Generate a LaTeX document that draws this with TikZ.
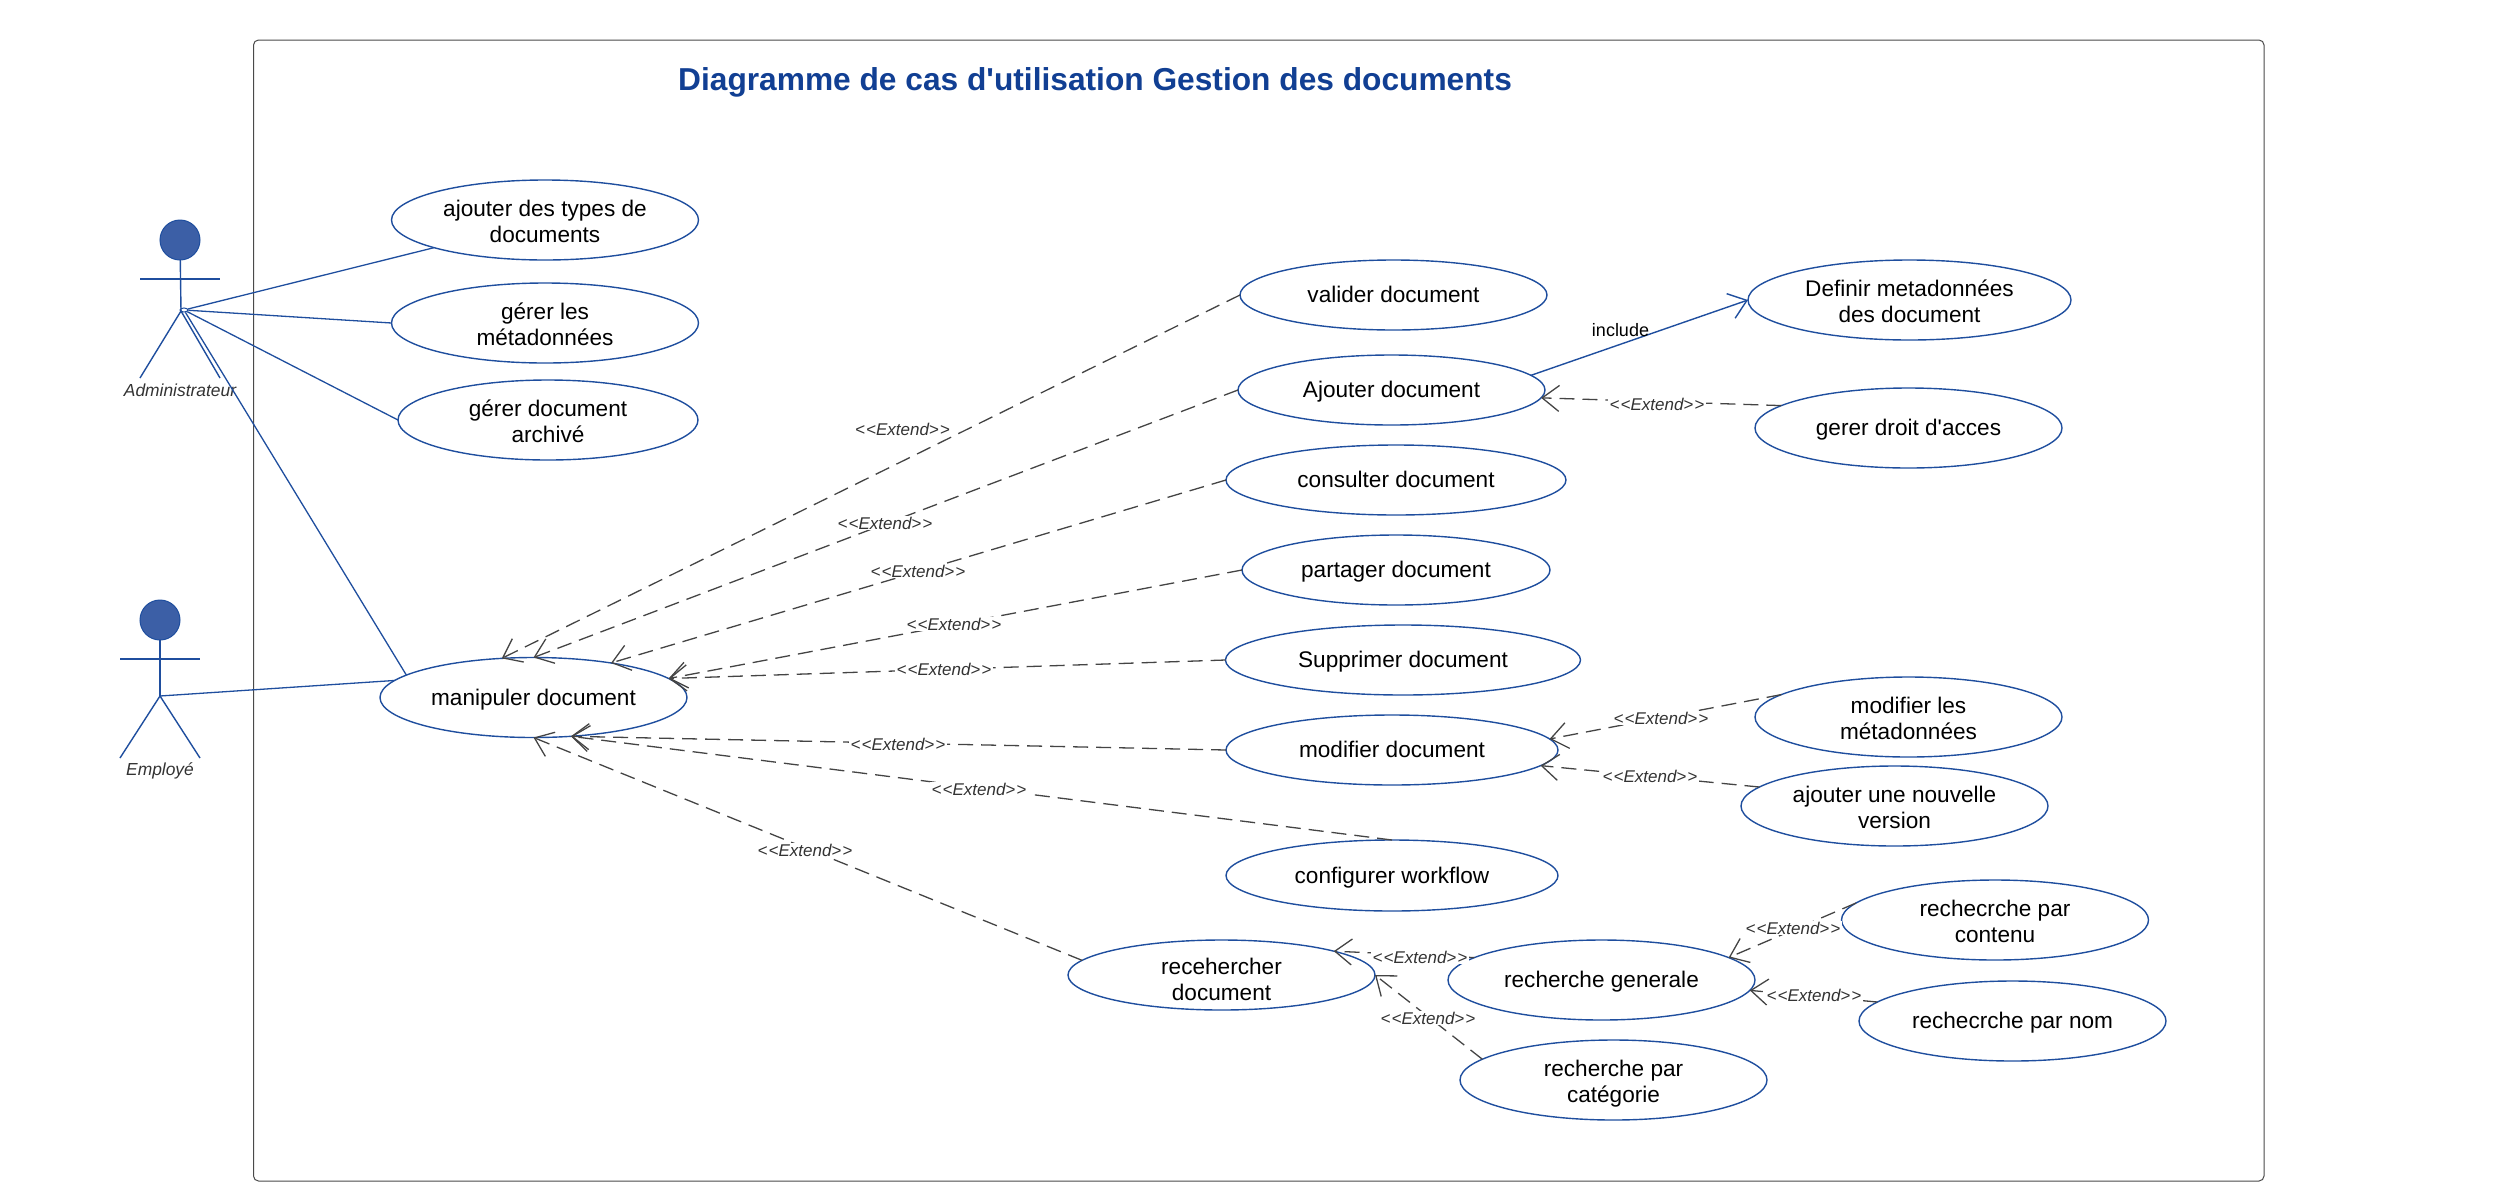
\documentclass[tikz,border=0pt]{standalone}
\usepackage{fontspec}
\setmainfont{Liberation Sans}
\newfontfamily\bodyf{Liberation Sans}
\AtBeginDocument{\bodyf}
\usetikzlibrary{shapes.geometric,arrows.meta}
\definecolor{ucblue}{HTML}{1F4E9E}
\definecolor{headfill}{HTML}{3C5FA6}
\definecolor{titleblue}{HTML}{113F93}
\definecolor{dashgrey}{HTML}{444444}
\definecolor{framegrey}{HTML}{4A4A4A}
\newcommand{\extext}{{<}\kern1pt{<}Extend{>}\kern1pt{>}}
\newcommand{\twol}[3][14.9pt]{\smash{\lower#1\hbox{\begin{tabular}[b]{@{}c@{}}#2\\#3\end{tabular}}}}
\tikzset{
  x=1pt,y=-1pt,
  uc/.style={ellipse,draw=ucblue,line width=1.4pt,inner sep=0pt,outer sep=0pt,minimum width=307pt,minimum height=80pt,align=center,
    font=\bodyf\fontsize{22.6}{26}\selectfont,text=black,execute at begin node={\rule[-5pt]{0pt}{25pt}}},
  ucs/.style={uc,minimum height=70pt},
  head/.style={circle,draw=ucblue,fill=headfill,line width=1pt,minimum size=40pt,inner sep=0pt,outer sep=0pt},
  limb/.style={draw=ucblue,line width=1.4pt},
  assoc/.style={draw=ucblue,line width=1.3pt},
  ext/.style={draw=dashgrey,line width=1.3pt,dash pattern=on 15pt off 8pt,-{Straight Barb[length=17pt,width=26pt,line width=1.3pt,color=dashgrey]}},
  inc/.style={draw=ucblue,line width=1.4pt,-{Straight Barb[length=17pt,width=26pt,line width=1.4pt,color=ucblue]}},
  extlabel/.style={fill=white,inner xsep=2pt,inner ysep=1pt,text=black!80,font=\bodyf\fontsize{17}{18}\selectfont\itshape},
  actorlabel/.style={inner sep=0pt,text=black!80,font=\bodyf\fontsize{17.4}{20}\selectfont\itshape},
  inclabel/.style={inner sep=0pt,text=black,font=\bodyf\fontsize{18}{20}\selectfont},
  titlelabel/.style={inner sep=0pt,text=titleblue,font=\bodyf\fontsize{31.7}{40}\selectfont\bfseries}
}
\begin{document}
\begin{tikzpicture}
\useasboundingbox (0,0) rectangle (2509,1203);
\draw[framegrey,line width=1pt,rounded corners=5pt] (253.5,40) rectangle (2264,1181);
\node[titlelabel,anchor=west] (title) at (678,82) {Diagramme de cas d'utilisation Gestion des documents};

\node[uc] (types) at (545,220) {\twol{ajouter des types de}{documents}};
\node[uc] (meta) at (545,323) {\twol{gérer les}{métadonnées}};
\node[uc,minimum width=300pt] (arch) at (548,420) {\twol{gérer document}{archivé}};
\node[uc] (manip) at (533.5,697.5) {manipuler document};
\node[ucs] (valider) at (1393.5,295) {valider document};
\node[ucs] (ajout) at (1391.5,390) {Ajouter document};
\node[uc,minimum width=323pt] (defin) at (1909.5,300) {\twol{Definir metadonnées}{des document}};
\node[uc] (droit) at (1908.5,428) {gerer droit d'acces};
\node[ucs,minimum width=340pt] (consult) at (1396,480) {consulter document};
\node[ucs,minimum width=308pt] (partage) at (1396,570) {partager document};
\node[ucs,minimum width=355pt] (suppr) at (1403,660) {Supprimer document};
\node[ucs,minimum width=332pt] (modif) at (1392,750) {modifier document};
\node[ucs,minimum width=332pt,minimum height=71pt] (config) at (1392,875.5) {configurer workflow};
\node[ucs] (rech) at (1221.5,975) {\twol[17.5pt]{recehercher}{document}};
\node[uc] (gener) at (1601.5,980) {recherche generale};
\node[uc] (categ) at (1613.5,1080) {\twol{recherche par}{catégorie}};
\node[uc] (mmeta) at (1908.5,717) {\twol{modifier les}{métadonnées}};
\node[uc] (nvers) at (1894.5,806) {\twol{ajouter une nouvelle}{version}};
\node[uc] (conten) at (1995,920) {\twol{rechecrche par}{contenu}};
\node[uc] (parnom) at (2012.5,1021) {rechecrche par nom};

% actors
\node[head] (h1) at (180,240) {};
\coordinate (w1) at (181,311);
\coordinate (a1l) at (140,279);
\coordinate (a1r) at (220,279);
\coordinate (l1l) at (140,378);
\coordinate (l1r) at (220,378);
\draw[limb] (h1) -- (w1);
\draw[limb] (a1l) -- (a1r);
\draw[limb] (l1l) -- (w1) -- (l1r);
\node[ellipse,draw=ucblue,line width=1pt,minimum width=8pt,minimum height=4pt,inner sep=0pt] (w1o) at (184,310) {};
\node[actorlabel] (adm) at (180,390) {Administrateur};

\node[head] (h2) at (160,620) {};
\coordinate (w2) at (160,696);
\coordinate (a2l) at (120,659);
\coordinate (a2r) at (200,659);
\coordinate (l2l) at (120,758);
\coordinate (l2r) at (200,758);
\draw[limb] (h2) -- (w2);
\draw[limb] (a2l) -- (a2r);
\draw[limb] (l2l) -- (w2) -- (l2r);
\node[actorlabel] (emp) at (160,771) {Employé};

% associations
\draw[assoc] (w1o) -- (types.194.2);
\draw[assoc] (w1o) -- (meta.180);
\draw[assoc] (w1o) -- (arch.180);
\draw[assoc] (w1o) -- (manip.170.6);
\draw[assoc] (w2) -- (manip.173.7);

% extends
\draw[ext] (valider.180) -- (manip.129.7);
\draw[ext] (ajout.180) -- (manip.90);
\draw[ext] (consult.180) -- (manip.24);
\draw[ext] (partage.180) -- (manip.8.6);
\draw[ext] (suppr.180) -- (manip.8.6);
\draw[ext] (modif.180) -- (manip.-46.8);
\draw[ext] (config.90) -- (manip.-46.8);
\draw[ext] (rech.174.35) -- (manip.-90);
\draw[ext] (droit.170.8) -- (ajout.-3.9);
\draw[ext] (mmeta.170.8) -- (modif.4.4);
\draw[ext] (nvers.172) -- (modif.-6.2);
\draw[ext] (gener.170.3) -- (rech.12.6);
\draw[ext] (categ.171) -- (rech.0);
\draw[ext] (conten.173.4) -- (gener.10.9);
\draw[ext] (parnom.172) -- (gener.-4.65);
\draw[inc] (ajout.6.7) -- (defin.180);

\node[extlabel] (e1) at (902.5,429) {\extext};
\node[extlabel] (e2) at (885,523) {\extext};
\node[extlabel] (e3) at (918,571) {\extext};
\node[extlabel] (e4) at (954,624) {\extext};
\node[extlabel] (e5) at (944,669) {\extext};
\node[extlabel] (e6) at (898,744) {\extext};
\node[extlabel] (e7) at (979,789) {\extext};
\node[extlabel] (e8) at (805,850) {\extext};
\node[extlabel] (e9) at (1657,404.5) {\extext};
\node[extlabel] (e10) at (1661,718) {\extext};
\node[extlabel] (e11) at (1650,776) {\extext};
\node[extlabel] (e12) at (1420,957) {\extext};
\node[extlabel] (e13) at (1428,1018) {\extext};
\node[extlabel] (e14) at (1793,928) {\extext};
\node[extlabel] (e15) at (1814,995) {\extext};
\node[inclabel] (inc1) at (1620.5,330.5) {include};
\end{tikzpicture}
\end{document}
